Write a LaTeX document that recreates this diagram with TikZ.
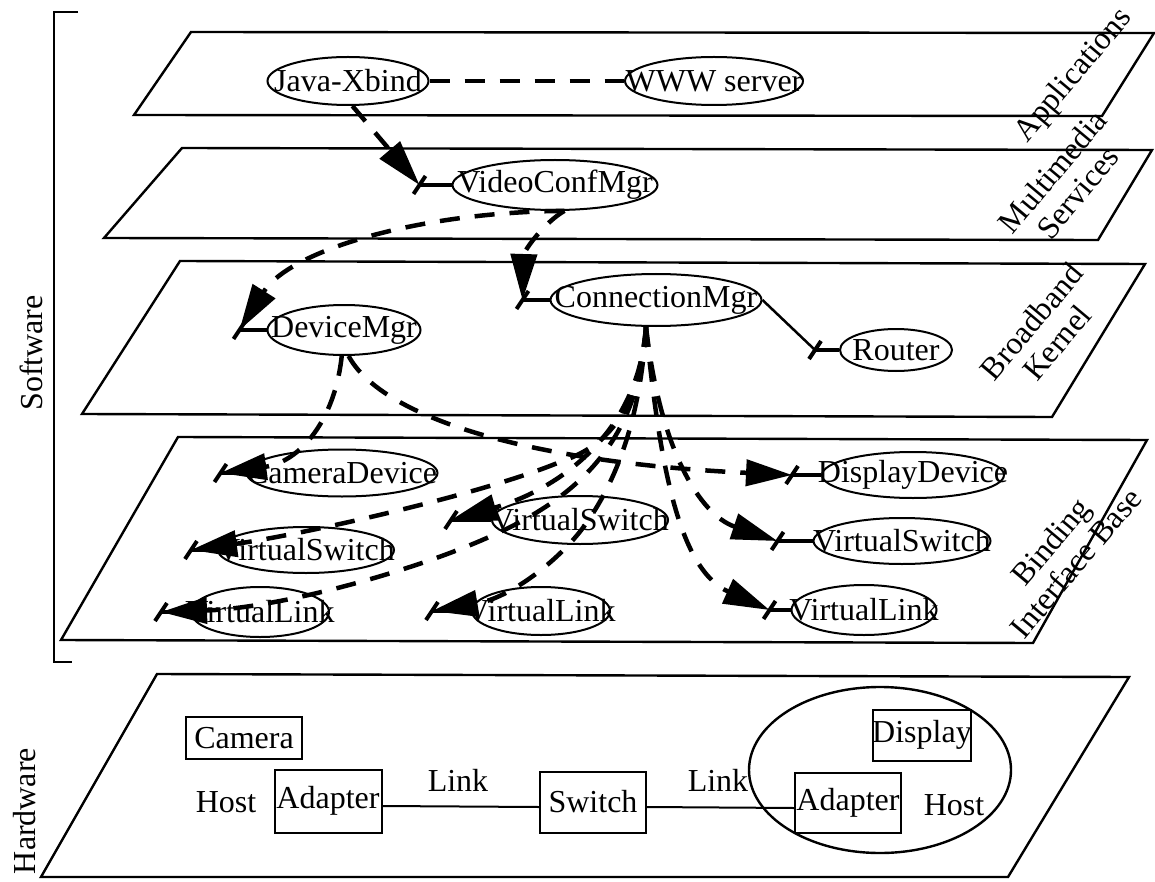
\documentclass[tikz,border=0pt]{standalone}
\usepackage{fontspec}
\setmainfont{Liberation Serif}
\usetikzlibrary{shapes.geometric,arrows.meta,calc}
% tick across the end of a call, then a short solid stub into the target
\newcommand\portstub[2]{%
  \draw[tickline] ($(#1)+(-6,9)$) -- ($(#1)+(6,-9)$);
  \draw[stubline] (#1) -- (#2.west);}
% label that does not widen its ellipse
\newcommand\lbl[1]{\makebox[0pt]{#1}}
\begin{document}
\begin{tikzpicture}[x=1pt,y=-1pt,
  every node/.style={font=\fontsize{32}{33}\selectfont, inner sep=0pt},
  layerpoly/.style={draw, line width=2.4pt, line join=miter},
  objnode/.style={ellipse, draw, line width=2pt, minimum height=48pt},
  hwbox/.style={rectangle, draw, line width=2pt},
  callarrow/.style={line width=4.5pt, dash pattern=on 20pt off 15pt,
    -{Triangle[length=46pt,width=26pt]}},
  dashlink/.style={line width=4.5pt, dash pattern=on 20pt off 15pt},
  stubline/.style={line width=3.5pt},
  tickline/.style={line width=4pt},
  hwwire/.style={line width=2pt},
  sidelabel/.style={rotate=50, align=center},
]
\useasboundingbox (0,0) rectangle (1155,882);

% ---------- software bracket ----------
\draw[line width=2pt] (78,12) -- (54,12) -- (54,662) -- (72,662);
\node[rotate=90] (swlabel) at (31,353) {Software};
\node[rotate=90] (hwlabel) at (25,811) {Hardware};

% ---------- layers ----------
\draw[layerpoly] (191,32) -- (1154,33) -- (1102,116) -- (134,115) -- cycle;
\draw[layerpoly] (182,148) -- (1152,150) -- (1098,240) -- (104,238) -- cycle;
\draw[layerpoly] (180,261) -- (1145,264) -- (1052,417) -- (82,414) -- cycle;
\draw[layerpoly] (178,437) -- (1147,440) -- (1033,643) -- (61,640) -- cycle;
\draw[layerpoly] (157,674) -- (1129,677) -- (1008,877) -- (41,877) -- cycle;

\node[sidelabel] (lapp) at (1074,76) {Applications};
\node[sidelabel] (lmm) at (1065,182) {Multimedia\\Services};
\node[sidelabel] (lbk) at (1044,332) {Broadband\\Kernel};
\node[sidelabel] (lbib) at (1063,552) {Binding\\Interface Base};

% ---------- software objects ----------
\node[objnode, minimum width=161pt] (jx) at (348,81) {\lbl{Java-Xbind}};
\node[objnode, minimum width=178pt] (www) at (714,81) {\lbl{WWW server}};
\node[objnode, minimum width=205pt, minimum height=50pt] (vcm) at (555,185) {\lbl{VideoConfMgr}};
\node[objnode, minimum width=153pt, minimum height=50pt] (dm) at (344,330) {\lbl{DeviceMgr}};
\node[objnode, minimum width=211pt, minimum height=52pt] (cm) at (656,300) {\lbl{ConnectionMgr}};
\node[objnode, minimum width=112pt, minimum height=42pt] (rt) at (896,350) {\lbl{Router}};
\node[objnode, minimum width=191pt, minimum height=47pt] (cd) at (342,473) {\lbl{CameraDevice}};
\node[objnode, minimum width=182pt, minimum height=46pt] (dd) at (913,475) {\lbl{DisplayDevice}};
\node[objnode, minimum width=176pt, minimum height=46pt] (vsl) at (306,550) {\lbl{VirtualSwitch}};
\node[objnode, minimum width=176pt, minimum height=48pt] (vsm) at (580,520) {\lbl{VirtualSwitch}};
\node[objnode, minimum width=177pt, minimum height=46pt] (vsr) at (902,541) {\lbl{VirtualSwitch}};
\node[objnode, minimum width=138pt, minimum height=50pt] (vll) at (260,612) {\lbl{VirtualLink}};
\node[objnode, minimum width=138pt, minimum height=48pt] (vlm) at (541,611) {\lbl{VirtualLink}};
\node[objnode, minimum width=145pt, minimum height=50pt] (vlr) at (864,610) {\lbl{VirtualLink}};

% ports in front of each called object
\coordinate (p-vcm) at ($(vcm.west)+(-32,0)$);
\coordinate (p-dm)  at ($(dm.west)+(-27,0)$);
\coordinate (p-cm)  at ($(cm.west)+(-27,0)$);
\coordinate (p-rt)  at ($(rt.west)+(-24,0)$);
\coordinate (p-cd)  at ($(cd.west)+(-25,0)$);
\coordinate (p-dd)  at ($(dd.west)+(-29,0)$);
\coordinate (p-vsl) at ($(vsl.west)+(-26,0)$);
\coordinate (p-vsm) at ($(vsm.west)+(-40,0)$);
\coordinate (p-vsr) at ($(vsr.west)+(-35,0)$);
\coordinate (p-vll) at ($(vll.west)+(-29,0)$);
\coordinate (p-vlm) at ($(vlm.west)+(-39,0)$);
\coordinate (p-vlr) at ($(vlr.west)+(-21,0)$);
\coordinate (cmo) at ($(cm.south)+(-10,0)$);

% ---------- calls ----------
\draw[dashlink] (jx.east) -- (www.west);
\draw[callarrow] (jx.-80) -- (p-vcm);
\draw[callarrow] (vcm.-70) .. controls (420,212) and (290,250) .. (p-dm);
\draw[callarrow] (vcm.-70) .. controls (545,222) and (524,250) .. (p-cm);
\draw[hwwire, line width=2.5pt] (cm.east) -- (p-rt);
\draw[callarrow] (dm.-95) .. controls (335,420) and (300,462) .. (p-cd);
\draw[callarrow] (dm.-80) .. controls (380,415) and (520,462) .. (p-dd);
\draw[callarrow] (cmo) .. controls (638,410) and (610,445) .. (560,462)
                       .. controls (480,495) and (300,535) .. (p-vsl);
\draw[callarrow] (cmo) .. controls (640,430) and (590,490) .. (500,532)
                       .. controls (420,570) and (280,608) .. (p-vll);
\draw[callarrow] (cmo) .. controls (638,440) and (550,492) .. (p-vsm);
\draw[callarrow] (cmo) .. controls (640,430) and (610,490) .. (585,525)
                       .. controls (560,560) and (510,598) .. (p-vlm);
\draw[callarrow] (cmo) .. controls (660,450) and (700,515) .. (p-vsr);
\draw[callarrow] (cmo) .. controls (660,470) and (680,570) .. (p-vlr);

\portstub{p-vcm}{vcm}
\portstub{p-dm}{dm}
\portstub{p-cm}{cm}
\portstub{p-rt}{rt}
\portstub{p-cd}{cd}
\portstub{p-dd}{dd}
\portstub{p-vsl}{vsl}
\portstub{p-vsm}{vsm}
\portstub{p-vsr}{vsr}
\portstub{p-vll}{vll}
\portstub{p-vlm}{vlm}
\portstub{p-vlr}{vlr}

% ---------- hardware ----------
\node[hwbox, minimum width=116pt, minimum height=42pt] (cam) at (244,738) {Camera};
\node (hostl) at (226,802) {Host};
\node[hwbox, minimum width=107pt, minimum height=63pt] (adl) at (328,801) {Adapter};
\node (linkl) at (458,780) {Link};
\node[hwbox, minimum width=106pt, minimum height=61pt] (sw) at (593,802) {Switch};
\node (linkr) at (718,780) {Link};
\node[ellipse, draw, line width=2.4pt, minimum width=262pt, minimum height=166pt] (host) at (880,770) {};
\node[hwbox, minimum width=98pt, minimum height=51pt] (disp) at (922,735) {\lbl{Display}};
\node[hwbox, minimum width=106pt, minimum height=60pt] (adr) at (848,803) {Adapter};
\node (hostr) at (954,805) {Host};
\draw[hwwire] ([yshift=-5pt]adl.east) -- ([yshift=-5pt]sw.west);
\draw[hwwire] ([yshift=-5pt]sw.east) -- ([yshift=-5pt]adr.west);
\end{tikzpicture}
\end{document}
